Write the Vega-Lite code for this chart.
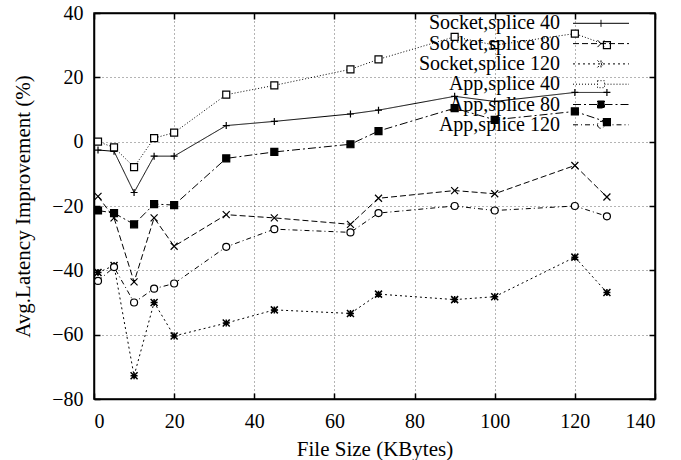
{
  "$schema": "https://vega.github.io/schema/vega-lite/v6.json",
  "width": 561,
  "height": 386,
  "autosize": "none",
  "padding": {"left": 94, "top": 13, "right": 26, "bottom": 61},
  "background": "white",
  "data": {"values": [
    {"s": "Socket,splice 40", "x": 1, "y": -2.6},
    {"s": "Socket,splice 40", "x": 5, "y": -3.0},
    {"s": "Socket,splice 40", "x": 10, "y": -15.8},
    {"s": "Socket,splice 40", "x": 15, "y": -4.5},
    {"s": "Socket,splice 40", "x": 20, "y": -4.5},
    {"s": "Socket,splice 40", "x": 33, "y": 5.0},
    {"s": "Socket,splice 40", "x": 45, "y": 6.3},
    {"s": "Socket,splice 40", "x": 64, "y": 8.6},
    {"s": "Socket,splice 40", "x": 71, "y": 9.8},
    {"s": "Socket,splice 40", "x": 90, "y": 14.1},
    {"s": "Socket,splice 40", "x": 100, "y": 12.5},
    {"s": "Socket,splice 40", "x": 120, "y": 15.3},
    {"s": "Socket,splice 40", "x": 128, "y": 15.3},
    {"s": "Socket,splice 80", "x": 1, "y": -17.0},
    {"s": "Socket,splice 80", "x": 5, "y": -23.7},
    {"s": "Socket,splice 80", "x": 10, "y": -43.6},
    {"s": "Socket,splice 80", "x": 15, "y": -23.7},
    {"s": "Socket,splice 80", "x": 20, "y": -32.5},
    {"s": "Socket,splice 80", "x": 33, "y": -22.7},
    {"s": "Socket,splice 80", "x": 45, "y": -23.7},
    {"s": "Socket,splice 80", "x": 64, "y": -25.7},
    {"s": "Socket,splice 80", "x": 71, "y": -17.6},
    {"s": "Socket,splice 80", "x": 90, "y": -15.2},
    {"s": "Socket,splice 80", "x": 100, "y": -16.2},
    {"s": "Socket,splice 80", "x": 120, "y": -7.4},
    {"s": "Socket,splice 80", "x": 128, "y": -17.2},
    {"s": "Socket,splice 120", "x": 1, "y": -40.7},
    {"s": "Socket,splice 120", "x": 5, "y": -38.5},
    {"s": "Socket,splice 120", "x": 10, "y": -72.8},
    {"s": "Socket,splice 120", "x": 15, "y": -50.0},
    {"s": "Socket,splice 120", "x": 20, "y": -60.4},
    {"s": "Socket,splice 120", "x": 33, "y": -56.4},
    {"s": "Socket,splice 120", "x": 45, "y": -52.3},
    {"s": "Socket,splice 120", "x": 64, "y": -53.4},
    {"s": "Socket,splice 120", "x": 71, "y": -47.4},
    {"s": "Socket,splice 120", "x": 90, "y": -49.1},
    {"s": "Socket,splice 120", "x": 100, "y": -48.2},
    {"s": "Socket,splice 120", "x": 120, "y": -35.9},
    {"s": "Socket,splice 120", "x": 128, "y": -46.9},
    {"s": "App,splice 40", "x": 1, "y": 0.0},
    {"s": "App,splice 40", "x": 5, "y": -1.8},
    {"s": "App,splice 40", "x": 10, "y": -7.9},
    {"s": "App,splice 40", "x": 15, "y": 1.1},
    {"s": "App,splice 40", "x": 20, "y": 2.8},
    {"s": "App,splice 40", "x": 33, "y": 14.6},
    {"s": "App,splice 40", "x": 45, "y": 17.5},
    {"s": "App,splice 40", "x": 64, "y": 22.5},
    {"s": "App,splice 40", "x": 71, "y": 25.6},
    {"s": "App,splice 40", "x": 90, "y": 32.6},
    {"s": "App,splice 40", "x": 100, "y": 30.0},
    {"s": "App,splice 40", "x": 120, "y": 33.6},
    {"s": "App,splice 40", "x": 128, "y": 30.0},
    {"s": "App,splice 80", "x": 1, "y": -21.4},
    {"s": "App,splice 80", "x": 5, "y": -22.2},
    {"s": "App,splice 80", "x": 10, "y": -25.7},
    {"s": "App,splice 80", "x": 15, "y": -19.4},
    {"s": "App,splice 80", "x": 20, "y": -19.7},
    {"s": "App,splice 80", "x": 33, "y": -5.2},
    {"s": "App,splice 80", "x": 45, "y": -3.2},
    {"s": "App,splice 80", "x": 64, "y": -0.8},
    {"s": "App,splice 80", "x": 71, "y": 3.3},
    {"s": "App,splice 80", "x": 90, "y": 10.4},
    {"s": "App,splice 80", "x": 100, "y": 6.8},
    {"s": "App,splice 80", "x": 120, "y": 9.4},
    {"s": "App,splice 80", "x": 128, "y": 6.1},
    {"s": "App,splice 120", "x": 1, "y": -43.3},
    {"s": "App,splice 120", "x": 5, "y": -39.0},
    {"s": "App,splice 120", "x": 10, "y": -50.0},
    {"s": "App,splice 120", "x": 15, "y": -45.7},
    {"s": "App,splice 120", "x": 20, "y": -44.1},
    {"s": "App,splice 120", "x": 33, "y": -32.7},
    {"s": "App,splice 120", "x": 45, "y": -27.2},
    {"s": "App,splice 120", "x": 64, "y": -28.2},
    {"s": "App,splice 120", "x": 71, "y": -22.2},
    {"s": "App,splice 120", "x": 90, "y": -20.0},
    {"s": "App,splice 120", "x": 100, "y": -21.4},
    {"s": "App,splice 120", "x": 120, "y": -20.0},
    {"s": "App,splice 120", "x": 128, "y": -23.2}
  ]},
  "config": {
    "font": "Liberation Serif",
    "view": {"stroke": "black", "strokeWidth": 1.5},
    "axis": {
      "labelFont": "Liberation Serif",
      "labelFontSize": 20,
      "labelColor": "black",
      "titleFont": "Liberation Serif",
      "titleFontSize": 21,
      "titleFontWeight": "normal",
      "titleColor": "black",
      "domainColor": "black",
      "domainWidth": 1.5,
      "tickColor": "black",
      "tickWidth": 1.5,
      "gridColor": "#444444",
      "gridDash": [1, 3],
      "gridWidth": 1,
      "gridOpacity": 0.8
    }
  },
  "layer": [
    {
      "mark": {"type": "line", "color": "black", "strokeWidth": 1},
      "encoding": {
        "x": {
          "field": "x", "type": "quantitative",
          "scale": {"domain": [0, 140], "nice": false},
          "axis": {"values": [0, 20, 40, 60, 80, 100, 120, 140], "title": "File Size (KBytes)", "tickSize": -6, "labelPadding": 18, "titlePadding": 7, "grid": true}
        },
        "y": {
          "field": "y", "type": "quantitative",
          "scale": {"domain": [-80, 40], "nice": false},
          "axis": {"values": [-80, -60, -40, -20, 0, 20, 40], "title": "Avg.Latency Improvement (%)", "tickSize": -6, "labelPadding": 17, "titlePadding": 18, "grid": true}
        },
        "strokeDash": {
          "field": "s", "type": "nominal",
          "scale": {
            "domain": ["Socket,splice 40", "Socket,splice 80", "Socket,splice 120", "App,splice 40", "App,splice 80", "App,splice 120"],
            "range": [[1, 0], [6, 3], [2, 3], [1, 2], [8, 3, 2, 3], [5, 3, 1, 3]]
          },
          "legend": {
            "title": null,
            "orient": "none",
            "legendX": 497,
            "legendY": 0.3,
            "labelAlign": "right",
            "labelOffset": -51,
            "labelFont": "Liberation Serif",
            "labelFontSize": 20,
            "labelColor": "black",
            "symbolSize": 16,
            "symbolStrokeWidth": 1,
            "symbolStrokeColor": "black",
            "rowPadding": 0.3,
            "padding": 0,
            "encode": {
              "symbols": {
                "update": {
                  "shape": {"signal": "datum.value === 'Socket,splice 40' ? 'M-14,0L14,0M0,-1.75L0,1.75' : datum.value === 'Socket,splice 80' ? 'M-14,0L14,0M-1.75,-1.75L1.75,1.75M-1.75,1.75L1.75,-1.75' : datum.value === 'Socket,splice 120' ? 'M-14,0L14,0M-1.75,-1.75L1.75,1.75M-1.75,1.75L1.75,-1.75M0,-1.75L0,1.75' : datum.value === 'App,splice 120' ? 'M-14,0L-1.75,0M1.75,0L14,0M-1.75,0A1.75,1.75,0,1,0,1.75,0A1.75,1.75,0,1,0,-1.75,0Z' : 'M-14,0L-1.75,0M1.75,0L14,0M-1.75,-1.75L1.75,-1.75L1.75,1.75L-1.75,1.75Z'"},
                  "fill": {"signal": "datum.value === 'App,splice 80' ? 'black' : 'transparent'"},
                  "stroke": {"value": "black"},
                  "strokeWidth": {"value": 1},
                  "opacity": {"value": 1}
                }
              }
            }
          }
        }
      }
    },
    {
      "transform": [{"filter": "datum.s === 'Socket,splice 40'"}],
      "mark": {"type": "point", "shape": "M-1,0H1M0,-1V1", "filled": false, "color": "black", "strokeWidth": 1.2, "size": 49, "opacity": 1},
      "encoding": {
        "x": {
          "field": "x", "type": "quantitative",
          "axis": {"orient": "top", "values": [0, 20, 40, 60, 80, 100, 120, 140], "labels": false, "title": null, "grid": false, "tickSize": -6}
        },
        "y": {
          "field": "y", "type": "quantitative",
          "axis": {"orient": "right", "values": [-80, -60, -40, -20, 0, 20, 40], "labels": false, "title": null, "grid": false, "tickSize": -6}
        }
      }
    },
    {
      "transform": [{"filter": "datum.s === 'Socket,splice 80'"}],
      "mark": {"type": "point", "shape": "M-1,-1L1,1M-1,1L1,-1", "filled": false, "color": "black", "strokeWidth": 1.2, "size": 49, "opacity": 1},
      "encoding": {
        "x": {"field": "x", "type": "quantitative", "axis": null},
        "y": {"field": "y", "type": "quantitative", "axis": null}
      }
    },
    {
      "transform": [{"filter": "datum.s === 'Socket,splice 120'"}],
      "mark": {"type": "point", "shape": "M-1,-1L1,1M-1,1L1,-1M-1,0H1M0,-1V1", "filled": false, "color": "black", "strokeWidth": 1.5, "size": 49, "opacity": 1},
      "encoding": {
        "x": {"field": "x", "type": "quantitative", "axis": null},
        "y": {"field": "y", "type": "quantitative", "axis": null}
      }
    },
    {
      "transform": [{"filter": "datum.s === 'App,splice 40'"}],
      "mark": {"type": "point", "shape": "square", "filled": true, "fill": "white", "stroke": "black", "strokeWidth": 1.2, "size": 49, "opacity": 1},
      "encoding": {
        "x": {"field": "x", "type": "quantitative", "axis": null},
        "y": {"field": "y", "type": "quantitative", "axis": null}
      }
    },
    {
      "transform": [{"filter": "datum.s === 'App,splice 80'"}],
      "mark": {"type": "point", "shape": "square", "filled": true, "fill": "black", "stroke": "black", "strokeWidth": 1.2, "size": 49, "opacity": 1},
      "encoding": {
        "x": {"field": "x", "type": "quantitative", "axis": null},
        "y": {"field": "y", "type": "quantitative", "axis": null}
      }
    },
    {
      "transform": [{"filter": "datum.s === 'App,splice 120'"}],
      "mark": {"type": "point", "shape": "circle", "filled": true, "fill": "white", "stroke": "black", "strokeWidth": 1.2, "size": 49, "opacity": 1},
      "encoding": {
        "x": {"field": "x", "type": "quantitative", "axis": null},
        "y": {"field": "y", "type": "quantitative", "axis": null}
      }
    }
  ],
  "resolve": {"axis": {"x": "independent", "y": "independent"}}
}
